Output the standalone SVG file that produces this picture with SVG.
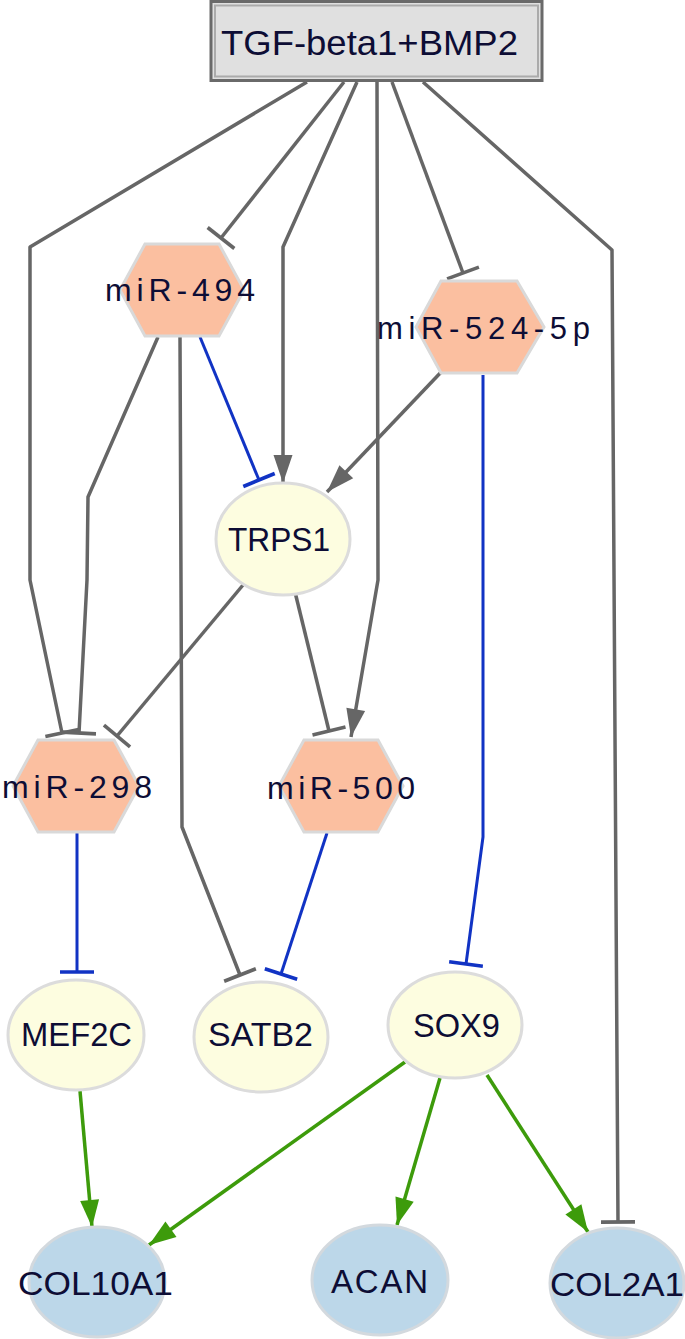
<svg xmlns="http://www.w3.org/2000/svg" width="685" height="1339" viewBox="0 0 685 1339">
<style>
.e{fill:none;stroke-linejoin:round}
.g{stroke:#666666;stroke-width:3.5}
.b{stroke:#1133c4;stroke-width:3}
.gr{stroke:#3d9b0b;stroke-width:3.5}
.mir{fill:#fbbfa0;stroke:#d9d9d9;stroke-width:3}
.gene{fill:#fdfde0;stroke:#dcdcdc;stroke-width:3}
.tgt{fill:#bcd7e9;stroke:#d3d9de;stroke-width:3}
text{font-family:"Liberation Sans",Arial,sans-serif;fill:#0d0d35}
.t32{font-size:32px}
.t33{font-size:33px}
</style>
<defs>
<marker id="tg" markerUnits="userSpaceOnUse" markerWidth="40" markerHeight="40" refX="0" refY="0" orient="auto" overflow="visible"><path d="M0,-17 L0,17" stroke="#666666" stroke-width="3.6"/></marker>
<marker id="tb" markerUnits="userSpaceOnUse" markerWidth="40" markerHeight="40" refX="0" refY="0" orient="auto" overflow="visible"><path d="M0,-17 L0,17" stroke="#1133c4" stroke-width="3.6"/></marker>
<marker id="ag" markerUnits="userSpaceOnUse" markerWidth="40" markerHeight="40" refX="0" refY="0" orient="auto" overflow="visible"><path d="M0,0 L-28,-9.5 L-28,9.5 Z" fill="#666666"/></marker>
<marker id="agr" markerUnits="userSpaceOnUse" markerWidth="40" markerHeight="40" refX="0" refY="0" orient="auto" overflow="visible"><path d="M0,0 L-27,-9.5 L-27,9.5 Z" fill="#3d9b0b"/></marker>
</defs>
<g id="edges">
<path class="e g" d="M307,82 L30,247 L30,580 L62,733" marker-end="url(#tg)"/>
<path class="e g" d="M344,82 L221,238" marker-end="url(#tg)"/>
<path class="e g" d="M357,82 L283,247 L283,483" marker-end="url(#ag)"/>
<path class="e g" d="M377,82 L378,580 L351,737" marker-end="url(#ag)"/>
<path class="e g" d="M392,82 L463,273" marker-end="url(#tg)"/>
<path class="e g" d="M423,82 L612,250 L618,1222" marker-end="url(#tg)"/>
<path class="e g" d="M158,337 L88,497 L87,580 L79,733" marker-end="url(#tg)"/>
<path class="e g" d="M180,337 L182,827 L240,975" marker-end="url(#tg)"/>
<path class="e b" d="M200,337 L259,480" marker-end="url(#tb)"/>
<path class="e g" d="M445,368 L327,492" marker-end="url(#ag)"/>
<path class="e b" d="M483,375 L483,837 L466,964" marker-end="url(#tb)"/>
<path class="e g" d="M243,585 L117,736" marker-end="url(#tg)"/>
<path class="e g" d="M295,592 L329,731" marker-end="url(#tg)"/>
<path class="e b" d="M77,833 L77,972" marker-end="url(#tb)"/>
<path class="e b" d="M327,833 L281,974" marker-end="url(#tb)"/>
<path class="e gr" d="M80,1091 L92,1227" marker-end="url(#agr)"/>
<path class="e gr" d="M405,1062 L149,1245" marker-end="url(#agr)"/>
<path class="e gr" d="M440,1078 L397,1225" marker-end="url(#agr)"/>
<path class="e gr" d="M487,1075 L588,1232" marker-end="url(#agr)"/>
</g>
<g id="TGF">
<rect x="211" y="1.5" width="331" height="79" fill="#e0e0e0" stroke="#6a6a6a" stroke-width="3"/>
<rect x="215" y="5.5" width="323" height="71" fill="none" stroke="#ababab" stroke-width="2"/>
<text x="221" y="55" font-size="35" textLength="297" lengthAdjust="spacingAndGlyphs">TGF-beta1+BMP2</text>
</g>
<g id="miR-494">
<polygon class="mir" points="145,244 219,244 244,290 219,336 145,336 120,290"/>
<text class="t32" x="105" y="301" textLength="150" lengthAdjust="spacing">miR-494</text>
</g>
<g id="miR-524-5p">
<polygon class="mir" points="441,281 517,281 544,327 517,373 441,373 416,327"/>
<text x="377" y="339" font-size="31" textLength="213" lengthAdjust="spacing">miR-524-5p</text>
</g>
<g id="TRPS1">
<ellipse class="gene" cx="283" cy="539" rx="67" ry="56"/>
<text class="t33" x="228" y="551" textLength="102" lengthAdjust="spacingAndGlyphs">TRPS1</text>
</g>
<g id="miR-298">
<polygon class="mir" points="38,740 114,740 139,786 114,832 38,832 13,786"/>
<text class="t32" x="2" y="798" textLength="150" lengthAdjust="spacing">miR-298</text>
</g>
<g id="miR-500">
<polygon class="mir" points="304,740 378,740 403,786 378,832 304,832 279,786"/>
<text class="t32" x="267" y="799" textLength="148" lengthAdjust="spacing">miR-500</text>
</g>
<g id="MEF2C">
<ellipse class="gene" cx="76" cy="1035" rx="68" ry="55"/>
<text class="t33" x="21" y="1046" textLength="111" lengthAdjust="spacingAndGlyphs">MEF2C</text>
</g>
<g id="SATB2">
<ellipse class="gene" cx="261" cy="1037" rx="67" ry="55"/>
<text class="t33" x="208" y="1046" textLength="105" lengthAdjust="spacingAndGlyphs">SATB2</text>
</g>
<g id="SOX9">
<ellipse class="gene" cx="455" cy="1025" rx="67" ry="53"/>
<text class="t33" x="413" y="1037" textLength="87" lengthAdjust="spacingAndGlyphs">SOX9</text>
</g>
<g id="COL10A1">
<ellipse class="tgt" cx="97" cy="1282" rx="68" ry="55"/>
<text class="t33" x="18" y="1295" textLength="155" lengthAdjust="spacingAndGlyphs">COL10A1</text>
</g>
<g id="ACAN">
<ellipse class="tgt" cx="380" cy="1280" rx="68" ry="55"/>
<text class="t33" x="331" y="1293" textLength="97" lengthAdjust="spacing">ACAN</text>
</g>
<g id="COL2A1">
<ellipse class="tgt" cx="617" cy="1283" rx="67" ry="55"/>
<text class="t33" x="550" y="1296" textLength="134" lengthAdjust="spacingAndGlyphs">COL2A1</text>
</g>
</svg>
